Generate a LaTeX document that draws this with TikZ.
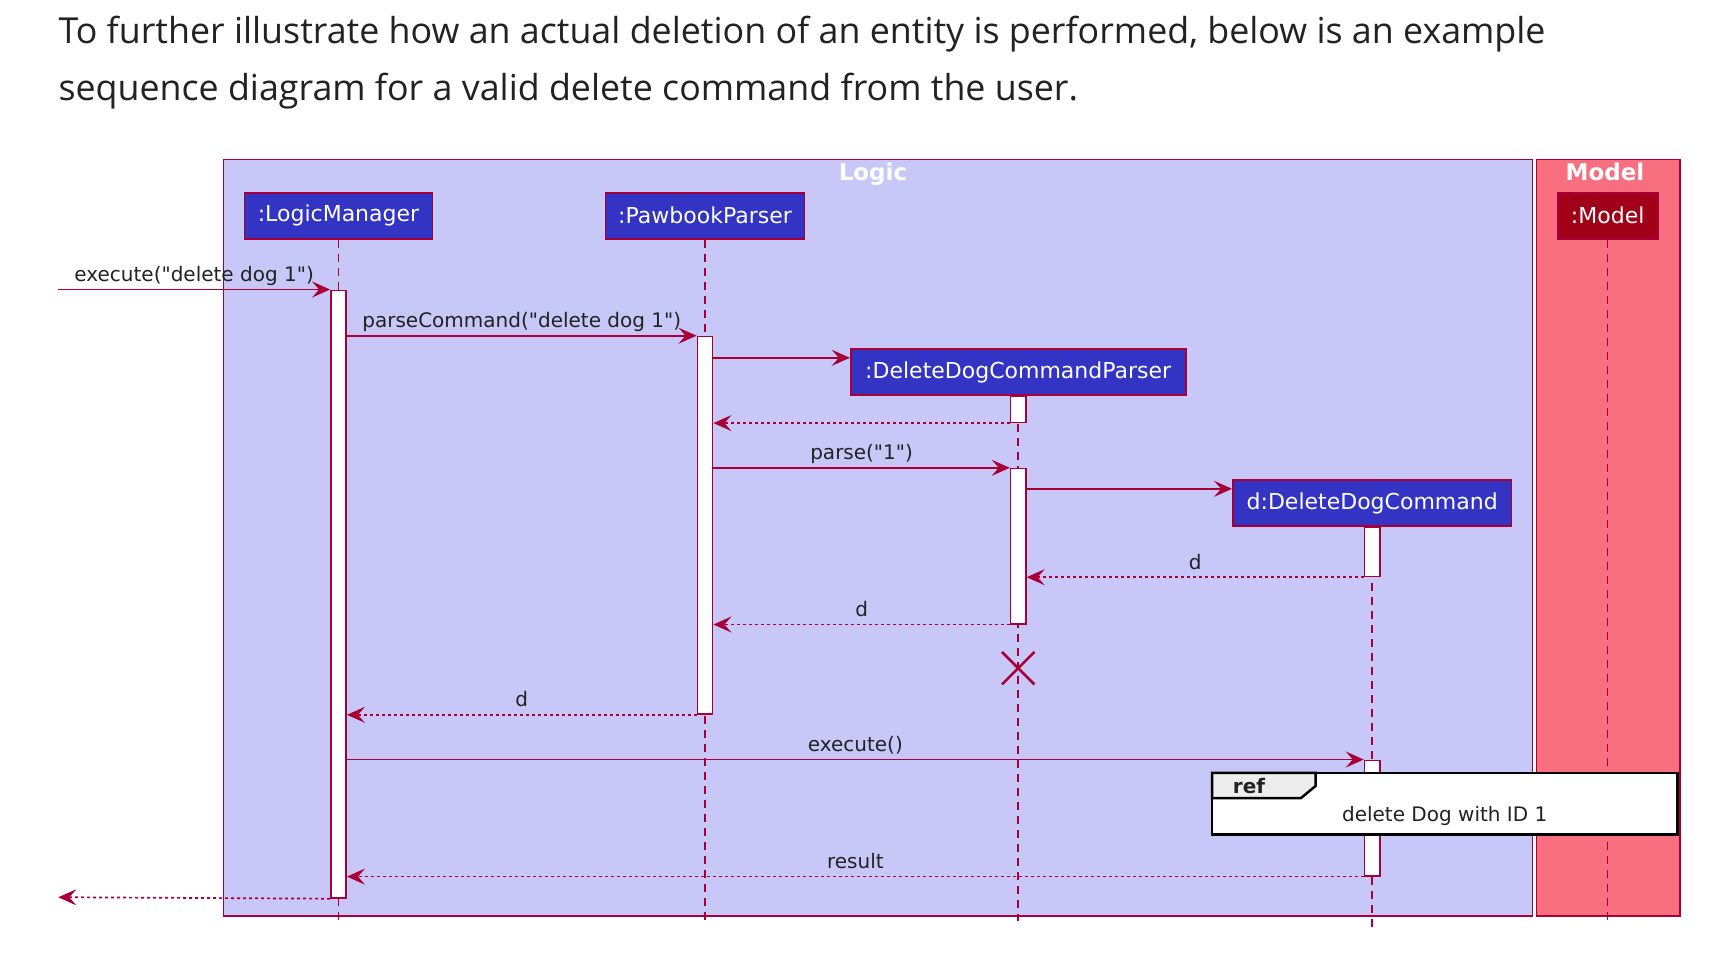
\documentclass[tikz,border=0pt]{standalone}
\usepackage{fontspec}
\setmainfont{DejaVu Sans}[Ligatures=TeXOff]
\newfontfamily\parafont{Open Sans}
\usetikzlibrary{arrows.meta, calc, shapes.misc}
\definecolor{cline}{HTML}{A80036}
\definecolor{clogic}{HTML}{C8C8F8}
\definecolor{cmodel}{HTML}{F87080}
\definecolor{cpart}{HTML}{3333C4}
\definecolor{cmpart}{HTML}{A00018}
\definecolor{ctext}{HTML}{222222}

\begin{document}
\begin{tikzpicture}[
    x=1pt, y=-1pt,
    frame/.style={draw=cline, line width=1.5pt},
    grouptitle/.style={anchor=base, text=white, font=\bfseries\fontsize{23}{28}\selectfont},
    part/.style={rectangle, draw=cline, line width=1.8pt, fill=cpart, text=white,
                 minimum height=46pt, inner sep=0pt, font=\fontsize{22}{26}\selectfont},
    act/.style={rectangle, draw=cline, line width=1.5pt, fill=white, anchor=north,
                minimum width=15.4pt, inner sep=0pt},
    life/.style={draw=cline, line width=1.5pt, dash pattern=on 8pt off 6pt},
    msg/.style={draw=cline, line width=1.7pt, -{Stealth[length=18pt, width=16pt, inset=7pt]}},
    ret/.style={msg, dash pattern=on 3pt off 3pt},
    lbl/.style={midway, above=3pt, inner sep=0pt, text height=15pt, text depth=4pt,
                text=ctext, font=\fontsize{20}{24}\selectfont},
    intro/.style={anchor=base west, inner sep=0pt, text=ctext, font=\parafont\fontsize{35.8}{44}\selectfont},
]
\fill[white] (0,0) rectangle (1726,954);
\useasboundingbox (0,0) rectangle (1726,954);

\node[intro] (intro1) at (58.3,43)
    {To further illustrate how an actual deletion of an entity is performed, below is an example};
\node[intro] (intro2) at (58.3,100)
    {sequence diagram for a valid delete command from the user.};

% groups
\draw[frame, fill=clogic] (223.5,159.6) rectangle (1532.3,915.9);
\draw[frame, fill=cmodel] (1536.7,159.6) rectangle (1679.8,915.9);
\node[grouptitle] (logict) at (873,180) {Logic};
\node[grouptitle] (modelt) at (1605,180) {Model};

% participants
\node[part, minimum width=188pt] (lm) at (338.5,215.7) {:LogicManager};
\node[part, minimum width=199pt] (pp) at (705,215.7) {:PawbookParser};
\node[part, minimum width=100pt, fill=cmpart] (mdl) at (1607.7,215.7) {:Model};
\node[part, minimum width=335pt] (ddcp) at (1018.2,372.1) {:DeleteDogCommandParser};
\node[part, minimum width=278.5pt] (ddc) at (1372.2,503.1) {d:DeleteDogCommand};

\coordinate (bot) at (0,921);
\coordinate (botc) at (0,927);
\draw[life] (lm.south) -- (lm.south |- bot);
\draw[life] (pp.south) -- (pp.south |- bot);
\draw[life] (mdl.south) -- (mdl.south |- bot);
\draw[life] (ddcp.south) -- (ddcp.south |- bot);
\draw[life] (ddc.south) -- (ddc.south |- botc);

% activations
\node[act, minimum height=607.7pt] (lmA) at (338.5,289.5) {};
\node[act, minimum height=377.6pt] (ppA) at (705,335.7) {};
\node[act, minimum height=26.4pt] (pA1) at (1018.2,395.2) {};
\node[act, minimum height=155.2pt] (pA2) at (1018.2,467.8) {};
\node[act, minimum height=49.5pt] (cA1) at (1372.2,526.2) {};
\node[act, minimum height=115.6pt] (cA2) at (1372.2,759.5) {};

% messages
\coordinate (inL) at (58.3,289.5);
\coordinate (outL) at (58.3,897.2);
\draw[msg] (inL) -- node[lbl] {execute("delete dog 1")} (lmA.north west);
\draw[msg] (lmA.east |- ppA.north) -- node[lbl] {parseCommand("delete dog 1")} (ppA.north west);
\draw[msg] (ppA.east |- 0,357.8) -- ([yshift=14.3pt]ddcp.west);
\draw[ret] (pA1.south west) -- (ppA.east |- pA1.south);
\draw[msg] (ppA.east |- pA2.north) -- node[lbl] {parse("1")} (pA2.north west);
\draw[msg] (pA2.east |- 0,488.8) -- ([yshift=14.3pt]ddc.west);
\draw[ret] (cA1.south west) -- node[lbl] {d} (pA2.east |- cA1.south);
\draw[ret] (pA2.south west) -- node[lbl] {d} (ppA.east |- pA2.south);
\node[cross out, draw=cline, line width=2.5pt, minimum size=30pt, inner sep=0pt] (kill) at (1018.2,668.2) {};
\draw[ret] (ppA.south west) -- node[lbl] {d} (lmA.east |- ppA.south);
\draw[msg] (lmA.east |- cA2.north) -- node[lbl] {execute()} (cA2.north west);
\draw[ret] (cA2.south west) -- node[lbl] {result} (lmA.east |- cA2.south);
\draw[ret] (lmA.south west) -- (outL);

% ref frame
\draw[line width=2.5pt, fill=white] (1212,772.8) rectangle (1677.6,834.4);
\draw[line width=2.5pt, fill=black!7] (1212,772.8) -- (1315.5,772.8) -- (1315.5,786)
    -- (1301,798) -- (1212,798) -- cycle;
\node[font=\bfseries\fontsize{20}{24}\selectfont, text=ctext] (reftag) at (1249,786) {ref};
\node[font=\fontsize{20}{24}\selectfont, text=ctext] (refbody) at (1444.7,815.7) {delete Dog with ID 1};
\end{tikzpicture}
\end{document}
